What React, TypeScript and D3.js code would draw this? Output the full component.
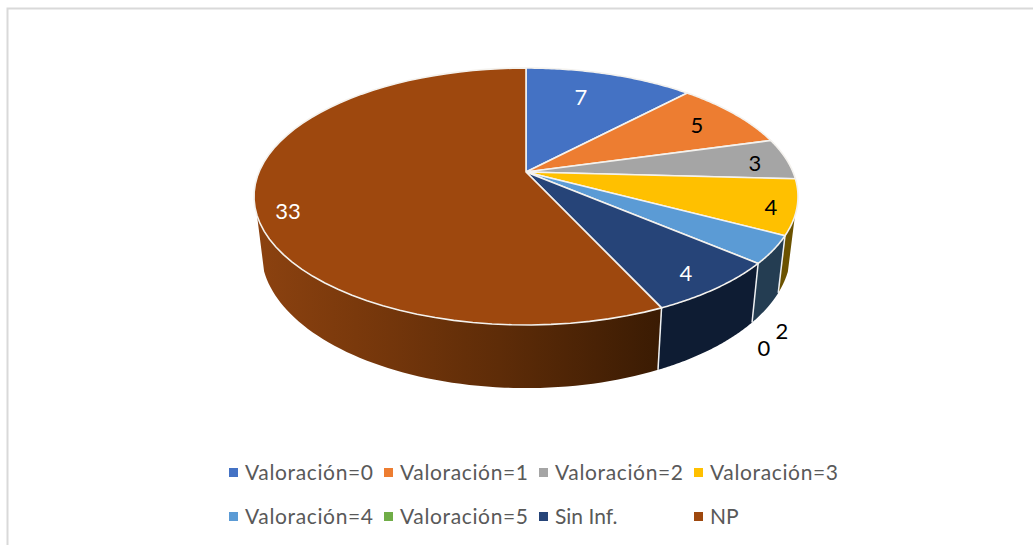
import React from "react";
import * as d3 from "d3";

const categories = ["Valoración=0", "Valoración=1", "Valoración=2", "Valoración=3", "Valoración=4", "Valoración=5", "Sin Inf.", "NP"];
const values = [7, 5, 3, 4, 2, 0, 4, 33];
const topColors = ["#4472c4", "#ed7d31", "#a5a5a5", "#ffc000", "#5b9bd5", "#70ad47", "#264478", "#9e480e"];
const wallColors = ["#2a4679", "#8f4c1e", "#646464", "#6b5200", "#243d52", "#44692b", "#0e1c33", "url(#npWall)"];
const labelColors = ["#fff", "#000", "#000", "#000", "#000", "#000", "#fff", "#fff"];
const labelX = [581, 697, 755, 771, 782, 764, 686, 288];
const labelY = [96.5, 124.5, 162.5, 206.5, 330.5, 347.5, 272.5, 210.5];
const legendX = [229, 384, 539, 694, 229, 384, 539, 694];
const legendY = [473, 473, 473, 473, 517, 517, 517, 517];

const W = 1033, H = 545;
const cx = 526, cy = 172;
const k = 0.1906;
const scaleA = 123.8, scaleB = 267;
const lowerCy = 225, lowerA = 132, lowerB = 260;
const wallStart = (109.3 * Math.PI) / 180, wallEnd = (250.7 * Math.PI) / 180;

const proj = (a: number, r = 1, lower = false): [number, number] => {
  const u = Math.sin(a) * r, v = -Math.cos(a) * r;
  const den = 1 - k * v;
  return lower
    ? [cx + (lowerB * u) / den, lowerCy + (lowerA * v) / den]
    : [cx + (scaleB * u) / den, cy + (scaleA * v) / den];
};

const pie = d3.pie<number>().sort(null).value((d) => d);
const arcs = pie(values);
const line = d3.line();

const rim = (a0: number, a1: number, lower = false) =>
  d3.range(0, 61).map((i) => proj(a0 + ((a1 - a0) * i) / 60, 1, lower));

export default function App() {
  const walls = arcs.map((s, i) => {
    const a0 = Math.max(s.startAngle, wallStart), a1 = Math.min(s.endAngle, wallEnd);
    if (a1 <= a0) return null;
    const top = rim(a0, a1);
    const bot = rim(a0, a1, true).reverse();
    return <path key={i} d={line([...top, ...bot])! + "Z"} fill={wallColors[i]} />;
  });
  const edges = arcs.map((s, i) => {
    if (s.endAngle === s.startAngle) return null;
    if (s.endAngle < wallStart || s.endAngle > wallEnd) return null;
    return <path key={i} d={line([proj(s.endAngle), proj(s.endAngle, 1, true)])!} stroke="#eef0f2" strokeWidth={1.5} fill="none" />;
  });
  const tops = arcs.map((s, i) => {
    if (s.endAngle === s.startAngle) return null;
    const pts = [proj(0, 0), ...rim(s.startAngle, s.endAngle)] as [number, number][];
    return <path key={i} d={line(pts)! + "Z"} fill={topColors[i]} stroke="#f4f2ee" strokeWidth={1.6} strokeLinejoin="round" />;
  });
  return (
    <svg width={W} height={H} style={{ position: "absolute", left: 0, top: 0, display: "block" }} fontFamily="Lato, sans-serif">
      <defs>
        <linearGradient id="npWall" gradientUnits="userSpaceOnUse" x1={254} x2={662} y1={0} y2={0}>
          <stop offset="0" stopColor="#8c4210" />
          <stop offset="0.25" stopColor="#7a390c" />
          <stop offset="0.6" stopColor="#5e2c08" />
          <stop offset="1" stopColor="#3a1b03" />
        </linearGradient>
      </defs>
      <rect width={W} height={H} fill="#fff" />
      <path d={line([[1033, 8.5], [7.5, 8.5], [7.5, 545]])!} fill="none" stroke="#d9d9d9" strokeWidth={2} />
      {walls}
      {edges}
      {tops}
      {values.map((v, i) => (
        <text key={i} x={labelX[i]} y={labelY[i]} fill={labelColors[i]} fontSize={22} textAnchor="middle" dominantBaseline="central">{v}</text>
      ))}
      {categories.map((c, i) => (
        <g key={c}>
          <rect x={legendX[i]} y={legendY[i] - 5} width={9} height={9} fill={topColors[i]} />
          <text x={legendX[i] + 16} y={legendY[i] - 1.5} fill="#595959" fontSize={21} dominantBaseline="central" textLength={c.startsWith("Val") ? 128 : undefined}>{c}</text>
        </g>
      ))}
    </svg>
  );
}
